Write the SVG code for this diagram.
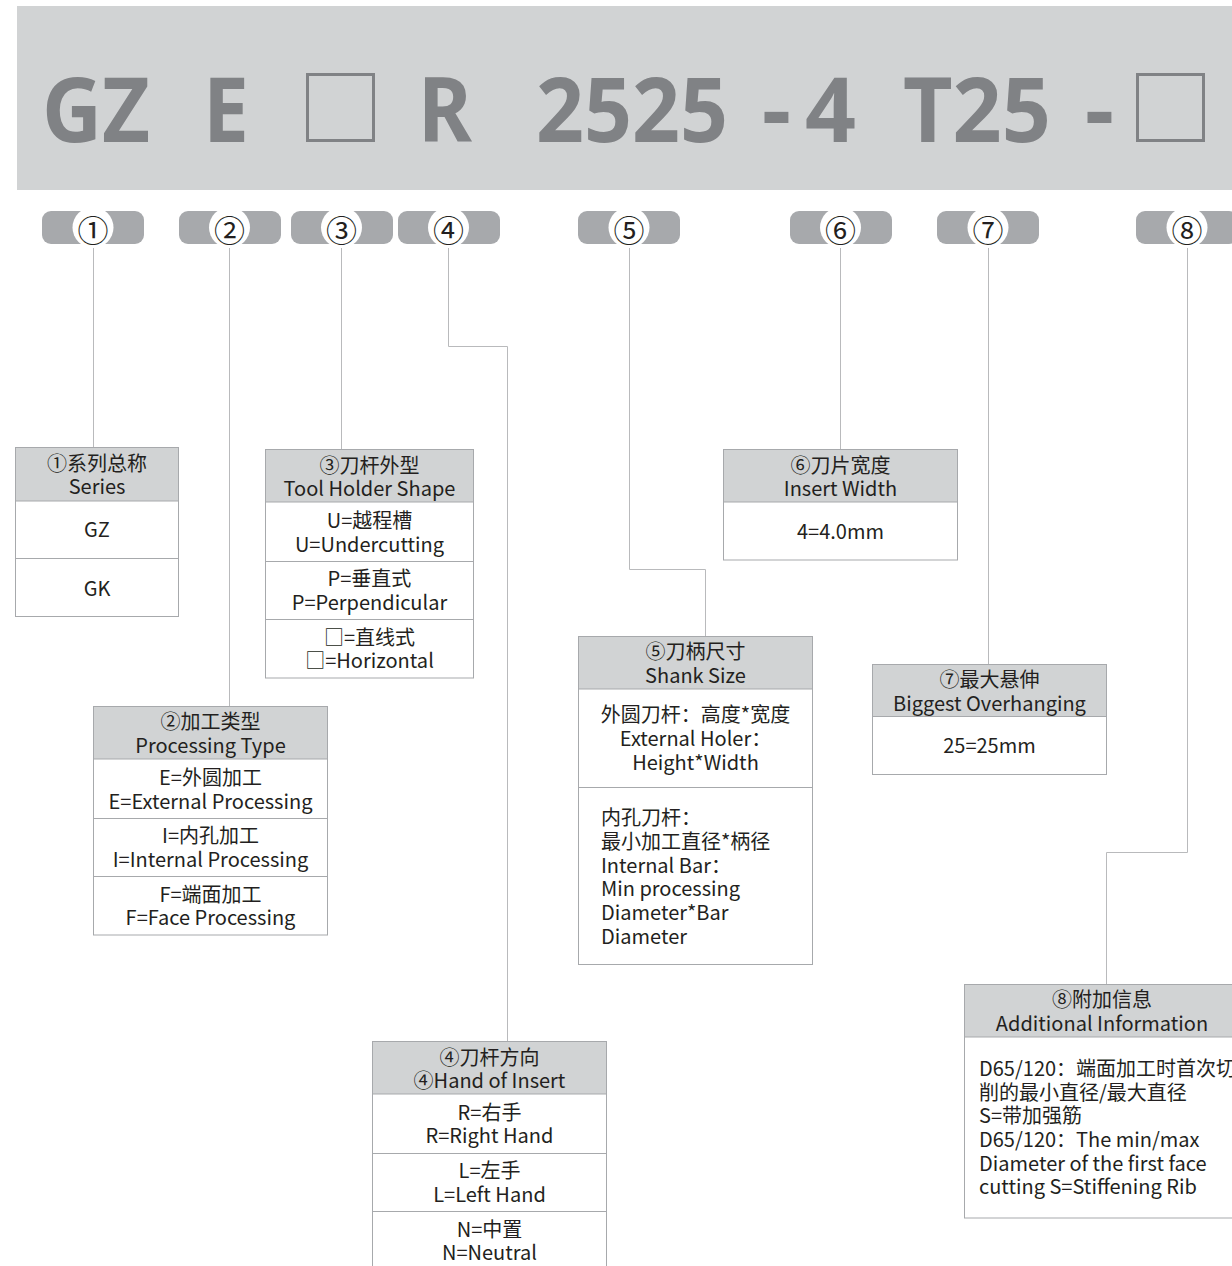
<svg xmlns="http://www.w3.org/2000/svg" width="1232" height="1266" viewBox="0 0 1232 1266">
<style>
.big{font-family:"Noto Sans","DejaVu Sans",sans-serif;font-weight:700;font-size:90px;fill:#808285}
.badge{fill:#a7a9ac}
.bc{fill:#fff}
.num{font-family:"Noto Sans CJK SC","Noto Sans",sans-serif;font-size:31px;fill:#231f20;text-anchor:middle}
.box{fill:#fff;stroke:#a7a9ac;stroke-width:1}
.hd{fill:#d1d3d4;stroke:#a7a9ac;stroke-width:1}
.sep{stroke:#a7a9ac;stroke-width:1}
.t{font-family:"Noto Sans CJK SC","Noto Sans",sans-serif;font-size:20px;fill:#231f20;text-anchor:middle}
.tl{font-family:"Noto Sans CJK SC","Noto Sans",sans-serif;font-size:20px;fill:#231f20}
.con{fill:none;stroke:#b9babc;stroke-width:1}
</style>
<g id="title">
<rect x="17" y="6" width="1215" height="184" fill="#d1d3d4"/>
<text class="big" x="42" y="142" textLength="108" lengthAdjust="spacingAndGlyphs">GZ</text>
<text class="big" x="203" y="142" textLength="46" lengthAdjust="spacingAndGlyphs">E</text>
<rect x="307.5" y="74.5" width="66" height="66" fill="none" stroke="#808285" stroke-width="3"/>
<text class="big" x="418" y="142" textLength="54" lengthAdjust="spacingAndGlyphs">R</text>
<text class="big" x="536" y="142" textLength="192" lengthAdjust="spacingAndGlyphs">2525</text>
<text class="big" x="762" y="142" textLength="29" lengthAdjust="spacingAndGlyphs">-</text>
<text class="big" x="805" y="142" textLength="51" lengthAdjust="spacingAndGlyphs">4</text>
<text class="big" x="903" y="142" textLength="148" lengthAdjust="spacingAndGlyphs">T25</text>
<text class="big" x="1085" y="142" textLength="29" lengthAdjust="spacingAndGlyphs">-</text>
<rect x="1137.5" y="74.5" width="66" height="66" fill="none" stroke="#808285" stroke-width="3"/>
</g>
<g id="connectors">
<path class="con" d="M93.5 244V447"/>
<path class="con" d="M229.5 244V706"/>
<path class="con" d="M341.5 244V449"/>
<path class="con" d="M448.5 244V346.5H507.5V1041"/>
<path class="con" d="M629.5 244V569.5H705.5V636"/>
<path class="con" d="M840.5 244V449"/>
<path class="con" d="M988.5 244V664"/>
<path class="con" d="M1187.5 244V852.5H1106.5V984"/>
</g>
<g id="badge1"><rect class="badge" x="42" y="211" width="102" height="33" rx="9"/><circle class="bc" cx="93" cy="227.5" r="20.5"/><text class="num" x="93" y="228" dominant-baseline="central">①</text></g>
<g id="badge2"><rect class="badge" x="179" y="211" width="102" height="33" rx="9"/><circle class="bc" cx="229.5" cy="227.5" r="20.5"/><text class="num" x="229.5" y="228" dominant-baseline="central">②</text></g>
<g id="badge3"><rect class="badge" x="291" y="211" width="102" height="33" rx="9"/><circle class="bc" cx="341.5" cy="227.5" r="20.5"/><text class="num" x="341.5" y="228" dominant-baseline="central">③</text></g>
<g id="badge4"><rect class="badge" x="398" y="211" width="102" height="33" rx="9"/><circle class="bc" cx="448.5" cy="227.5" r="20.5"/><text class="num" x="448.5" y="228" dominant-baseline="central">④</text></g>
<g id="badge5"><rect class="badge" x="578" y="211" width="102" height="33" rx="9"/><circle class="bc" cx="629" cy="227.5" r="20.5"/><text class="num" x="629" y="228" dominant-baseline="central">⑤</text></g>
<g id="badge6"><rect class="badge" x="790" y="211" width="102" height="33" rx="9"/><circle class="bc" cx="840.5" cy="227.5" r="20.5"/><text class="num" x="840.5" y="228" dominant-baseline="central">⑥</text></g>
<g id="badge7"><rect class="badge" x="937" y="211" width="102" height="33" rx="9"/><circle class="bc" cx="988" cy="227.5" r="20.5"/><text class="num" x="988" y="228" dominant-baseline="central">⑦</text></g>
<g id="badge8"><rect class="badge" x="1136" y="211" width="102" height="33" rx="9"/><circle class="bc" cx="1187" cy="227.5" r="20.5"/><text class="num" x="1187" y="228" dominant-baseline="central">⑧</text></g>

<g id="box1">
<rect class="box" x="15.5" y="447.5" width="163" height="169"/>
<rect class="hd" x="15.5" y="447.5" width="163" height="53.5"/>
<line class="sep" x1="15.5" y1="558.5" x2="178.5" y2="558.5"/>
<text class="t" x="97" y="471">①系列总称</text>
<text class="t" x="97" y="494">Series</text>
<text class="t" x="97" y="537">GZ</text>
<text class="t" x="97" y="596">GK</text>
</g>
<g id="box3">
<rect class="box" x="265.5" y="449.5" width="208" height="228.5"/>
<rect class="hd" x="265.5" y="449.5" width="208" height="52.5"/>
<line class="sep" x1="265.5" y1="561.5" x2="473.5" y2="561.5"/>
<line class="sep" x1="265.5" y1="619.5" x2="473.5" y2="619.5"/>
<text class="t" x="369.5" y="473">③刀杆外型</text>
<text class="t" x="369.5" y="496">Tool Holder Shape</text>
<text class="t" x="369.5" y="528">U=越程槽</text>
<text class="t" x="369.5" y="552">U=Undercutting</text>
<text class="t" x="369.5" y="586">P=垂直式</text>
<text class="t" x="369.5" y="610">P=Perpendicular</text>
<text class="t" x="369.5" y="645">□=直线式</text>
<text class="t" x="369.5" y="668">□=Horizontal</text>
</g>
<g id="box2">
<rect class="box" x="93.5" y="706.5" width="234" height="228.5"/>
<rect class="hd" x="93.5" y="706.5" width="234" height="52.5"/>
<line class="sep" x1="93.5" y1="818.5" x2="327.5" y2="818.5"/>
<line class="sep" x1="93.5" y1="876.5" x2="327.5" y2="876.5"/>
<text class="t" x="210.5" y="729">②加工类型</text>
<text class="t" x="210.5" y="753">Processing Type</text>
<text class="t" x="210.5" y="785">E=外圆加工</text>
<text class="t" x="210.5" y="809">E=External Processing</text>
<text class="t" x="210.5" y="843">I=内孔加工</text>
<text class="t" x="210.5" y="867">I=Internal Processing</text>
<text class="t" x="210.5" y="902">F=端面加工</text>
<text class="t" x="210.5" y="925">F=Face Processing</text>
</g>
<g id="box6">
<rect class="box" x="723.5" y="449.5" width="234" height="110.5"/>
<rect class="hd" x="723.5" y="449.5" width="234" height="52.5"/>
<text class="t" x="840.5" y="473">⑥刀片宽度</text>
<text class="t" x="840.5" y="496">Insert Width</text>
<text class="t" x="840.5" y="539">4=4.0mm</text>
</g>
<g id="box5">
<rect class="box" x="578.5" y="636.5" width="234" height="328"/>
<rect class="hd" x="578.5" y="636.5" width="234" height="52.5"/>
<line class="sep" x1="578.5" y1="787.5" x2="812.5" y2="787.5"/>
<text class="t" x="695.5" y="659">⑤刀柄尺寸</text>
<text class="t" x="695.5" y="683">Shank Size</text>
<text class="t" x="695.5" y="722">外圆刀杆：高度*宽度</text>
<text class="t" x="695.5" y="746">External Holer：</text>
<text class="t" x="695.5" y="770">Height*Width</text>
<text class="tl" x="601" y="825">内孔刀杆：</text>
<text class="tl" x="601" y="849">最小加工直径*柄径</text>
<text class="tl" x="601" y="873">Internal Bar：</text>
<text class="tl" x="601" y="896">Min processing</text>
<text class="tl" x="601" y="920">Diameter*Bar</text>
<text class="tl" x="601" y="944">Diameter</text>
</g>
<g id="box7">
<rect class="box" x="872.5" y="664.5" width="234" height="110"/>
<rect class="hd" x="872.5" y="664.5" width="234" height="52"/>
<text class="t" x="989.5" y="687">⑦最大悬伸</text>
<text class="t" x="989.5" y="711">Biggest Overhanging</text>
<text class="t" x="989.5" y="753">25=25mm</text>
</g>
<g id="box8">
<rect class="box" x="964.5" y="984.5" width="280" height="233.5"/>
<rect class="hd" x="964.5" y="984.5" width="280" height="52.5"/>
<text class="t" x="1102" y="1007">⑧附加信息</text>
<text class="t" x="1102" y="1031">Additional Information</text>
<text class="tl" x="979" y="1076">D65/120：端面加工时首次切</text>
<text class="tl" x="979" y="1100">削的最小直径/最大直径</text>
<text class="tl" x="979" y="1123">S=带加强筋</text>
<text class="tl" x="979" y="1147">D65/120：The min/max</text>
<text class="tl" x="979" y="1171">Diameter of the first face</text>
<text class="tl" x="979" y="1194">cutting S=Stiffening Rib</text>
</g>
<g id="box4">
<rect class="box" x="372.5" y="1041.5" width="234" height="240"/>
<rect class="hd" x="372.5" y="1041.5" width="234" height="52.5"/>
<line class="sep" x1="372.5" y1="1153.5" x2="606.5" y2="1153.5"/>
<line class="sep" x1="372.5" y1="1211.5" x2="606.5" y2="1211.5"/>
<text class="t" x="489.5" y="1065">④刀杆方向</text>
<text class="t" x="489.5" y="1088">④Hand of Insert</text>
<text class="t" x="489.5" y="1120">R=右手</text>
<text class="t" x="489.5" y="1143">R=Right Hand</text>
<text class="t" x="489.5" y="1178">L=左手</text>
<text class="t" x="489.5" y="1202">L=Left Hand</text>
<text class="t" x="489.5" y="1237">N=中置</text>
<text class="t" x="489.5" y="1260">N=Neutral</text>
</g>
</svg>
